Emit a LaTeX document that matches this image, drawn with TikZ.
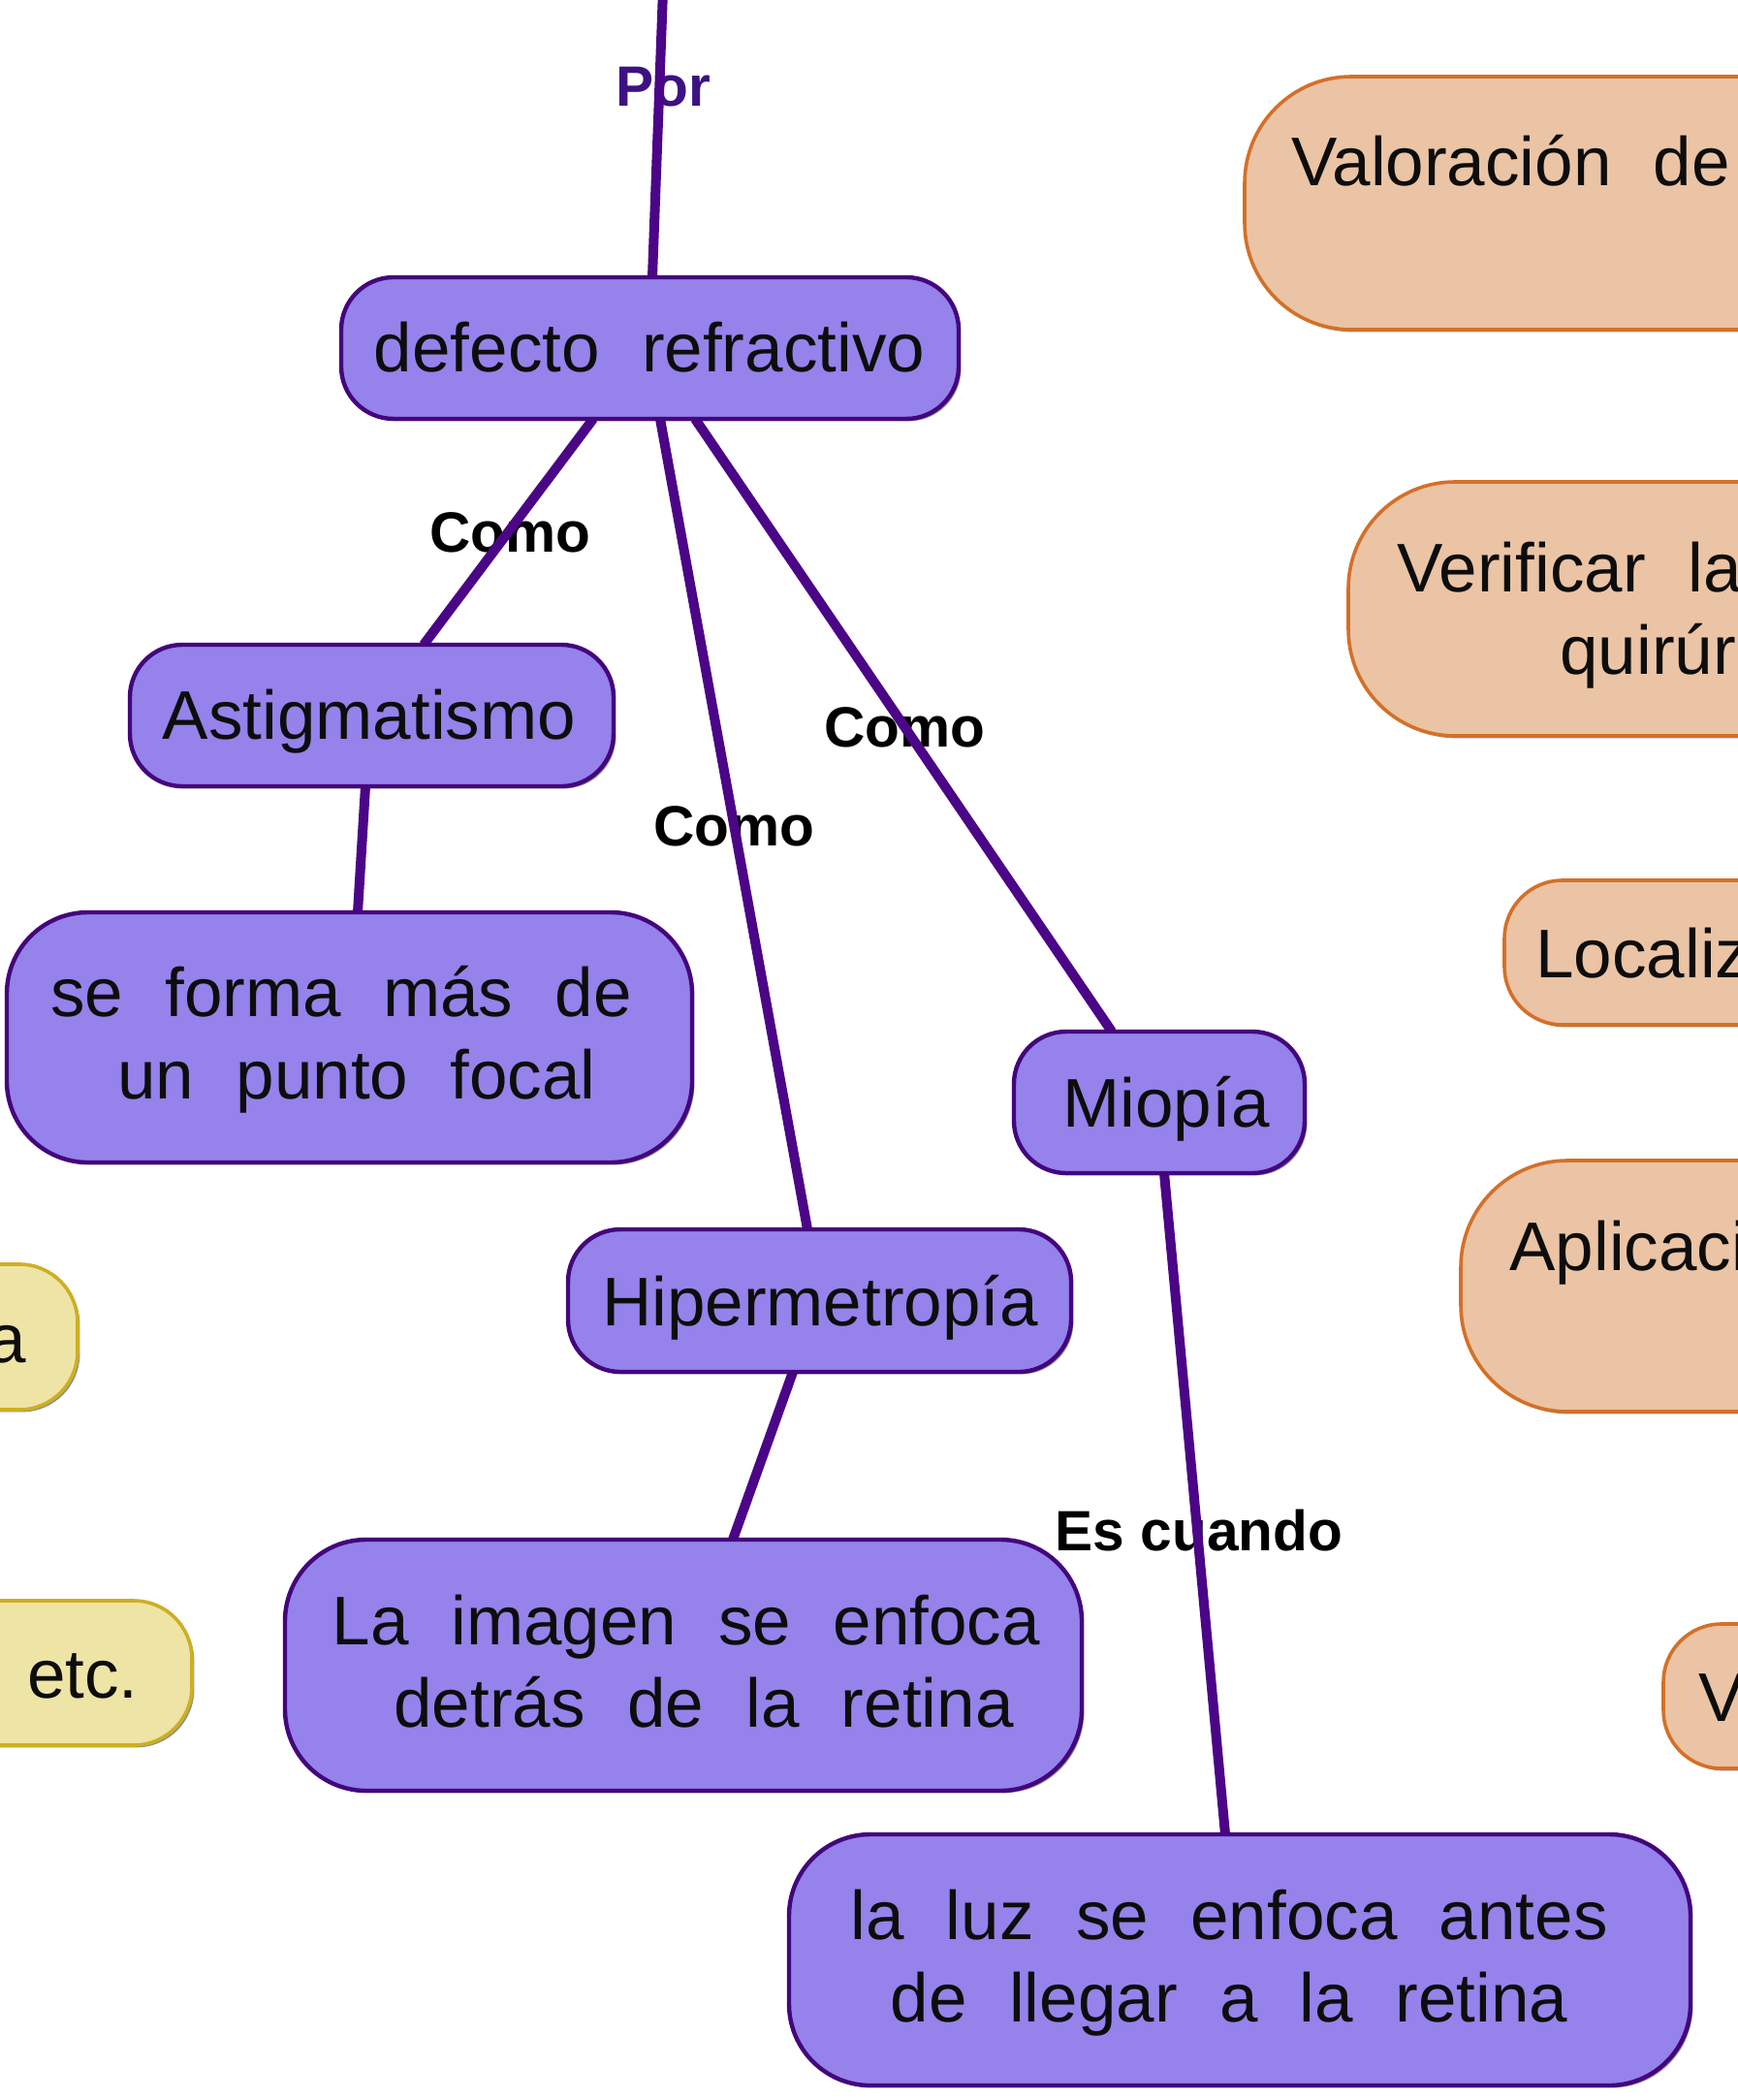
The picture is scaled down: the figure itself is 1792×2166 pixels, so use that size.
\documentclass[tikz,border=0pt]{standalone}
\usepackage{fontspec}
\setmainfont{Liberation Sans}
\newfontfamily\boxfont[WordSpace=2.2]{Liberation Sans}
\usetikzlibrary{calc,shadows}
\definecolor{pfill}{RGB}{149,130,235}
\definecolor{pdraw}{RGB}{68,6,125}
\definecolor{lcol}{RGB}{75,5,135}
\definecolor{ofill}{RGB}{234,196,164}
\definecolor{odraw}{RGB}{212,112,40}
\definecolor{yfill}{RGB}{238,228,166}
\definecolor{ydraw}{RGB}{205,175,35}
\definecolor{porcol}{RGB}{60,18,130}
\pgfdeclarelayer{bgfill}
\pgfdeclarelayer{labels}
\pgfdeclarelayer{lines}
\pgfsetlayers{bgfill,labels,lines,main}
\tikzset{
  shad/.style={drop shadow={shadow xshift=1.2pt,shadow yshift=-1.2pt,fill=black,opacity=0.45}},
  pbox/.style={draw=pdraw,line width=2.2pt,fill=pfill,outer sep=0pt,inner sep=0pt,shad},
  obox/.style={draw=odraw,line width=1.8pt,fill=ofill,outer sep=0pt,inner sep=0pt,shad},
  ybox/.style={draw=ydraw,line width=1.8pt,fill=yfill,outer sep=0pt,inner sep=0pt,shad},
  btext/.style={font={\boxfont\fontsize{35.5pt}{42.5pt}\selectfont},inner sep=0pt,anchor=base,text=black!95},
  lbl/.style={font={\bfseries\fontsize{29.3pt}{35pt}\selectfont},inner sep=0pt,anchor=base,text=black},
  conn/.style={draw=lcol,line width=5pt},
}
\begin{document}
\begin{tikzpicture}[x=0.5pt,y=-0.5pt]
\useasboundingbox (0,0) rectangle (1792,2166);
\begin{pgfonlayer}{bgfill}
\fill[white] (0,0) rectangle (1792,2166);
\end{pgfonlayer}

% purple boxes
\node[pbox,rounded corners=27pt,minimum width=318.5pt,minimum height=73pt] (defecto) at (670.5,359) {};
\node[pbox,rounded corners=27pt,minimum width=249.5pt,minimum height=73pt] (astig) at (383.5,738) {};
\node[pbox,rounded corners=42pt,minimum width=353.5pt,minimum height=129pt] (seforma) at (360.5,1070) {};
\node[pbox,rounded corners=27pt,minimum width=150pt,minimum height=73pt] (miopia) at (1196,1137) {};
\node[pbox,rounded corners=27pt,minimum width=259.5pt,minimum height=73.5pt] (hiper) at (845.5,1341.5) {};
\node[pbox,rounded corners=42pt,minimum width=411pt,minimum height=129.5pt] (imagen) at (705,1717.5) {};
\node[pbox,rounded corners=42pt,minimum width=465pt,minimum height=129.5pt] (luz) at (1279,2021.5) {};

% orange boxes (cut off at the right)
\node[obox,rounded corners=55pt,minimum width=458pt,minimum height=130.5pt] (valor) at (1742,209.5) {};
\node[obox,rounded corners=55pt,minimum width=404.5pt,minimum height=131pt] (verif) at (1795.5,628) {};
\node[obox,rounded corners=30pt,minimum width=324pt,minimum height=74.5pt] (localiz) at (1876,982.5) {};
\node[obox,rounded corners=55pt,minimum width=346.5pt,minimum height=129.5pt] (aplic) at (1853.5,1326.5) {};
\node[obox,rounded corners=30pt,minimum width=242pt,minimum height=74.5pt] (vbox) at (1958,1749.5) {};

% yellow boxes (cut off at the left)
\node[ybox,rounded corners=30pt,minimum width=240pt,minimum height=75pt] (ya) at (-160,1379) {};
\node[ybox,rounded corners=30pt,minimum width=299pt,minimum height=74.5pt] (yetc) at (-101,1725.5) {};

% texts in purple boxes
\node[btext] (t-defecto) at (670,384) {defecto refractivo};
\node[btext] (t-astig) at (381,762) {Astigmatismo};
\node[btext] (t-seforma1) at (352,1048) {se forma más de};
\node[btext] (t-seforma2) at (368,1133) {un punto focal};
\node[btext] (t-miopia) at (1203,1162) {Miopía};
\node[btext] (t-hiper) at (846,1367) {Hipermetropía};
\node[btext] (t-imagen1) at (708,1696) {La imagen se enfoca};
\node[btext] (t-imagen2) at (726,1781) {detrás de la retina};
\node[btext] (t-luz1) at (1268,2000) {la luz se enfoca antes};
\node[btext] (t-luz2) at (1268,2085) {de llegar a la retina};

% texts in orange boxes
\node[btext,anchor=base west] (t-valor) at (1332,192) {Valoración de};
\node[btext,anchor=base west] (t-verif1) at (1441,610) {Verificar la};
\node[btext,anchor=base west] (t-verif2) at (1609,695) {quirúr};
\node[btext,anchor=base west] (t-localiz) at (1584,1008) {Localiz};
\node[btext,anchor=base west] (t-aplic) at (1557,1310) {Aplicaci};
\node[btext,anchor=base west] (t-v) at (1752,1775) {V};

% texts in yellow boxes
\node[btext,anchor=base east] (t-ya) at (27,1405) {a};
\node[btext,anchor=base east] (t-etc) at (143,1751) {etc.};

% connector labels
\begin{pgfonlayer}{labels}
\node[lbl,text=porcol] (l-por) at (684,110) {Por};
\node[lbl] (l-como1) at (526,569) {Como};
\node[lbl] (l-como2) at (757,872) {Como};
\node[lbl] (l-como3) at (933,770) {Como};
\node[lbl] (l-escuando) at (1237,1599) {Es cuando};
\end{pgfonlayer}

% connectors
\coordinate (topend) at (684,-10);
\begin{pgfonlayer}{lines}
\draw[conn] (topend) -- ($(defecto.north)+(2.5,0)$);
\draw[conn] ($(defecto.south)+(-58.5,0)$) -- ($(astig.north)+(53.5,0)$);
\draw[conn] ($(defecto.south)+(10.5,0)$) -- ($(hiper.north)+(-12.5,0)$);
\draw[conn] ($(defecto.south)+(46.5,0)$) -- ($(miopia.north)+(-49,0)$);
\draw[conn] ($(astig.south)+(-6.5,0)$) -- ($(seforma.north)+(8.5,0)$);
\draw[conn] ($(hiper.south)+(-27.5,0)$) -- ($(imagen.north)+(51,0)$);
\draw[conn] ($(miopia.south)+(5,0)$) -- ($(luz.north)+(-15,0)$);
\end{pgfonlayer}
\end{tikzpicture}
\end{document}
